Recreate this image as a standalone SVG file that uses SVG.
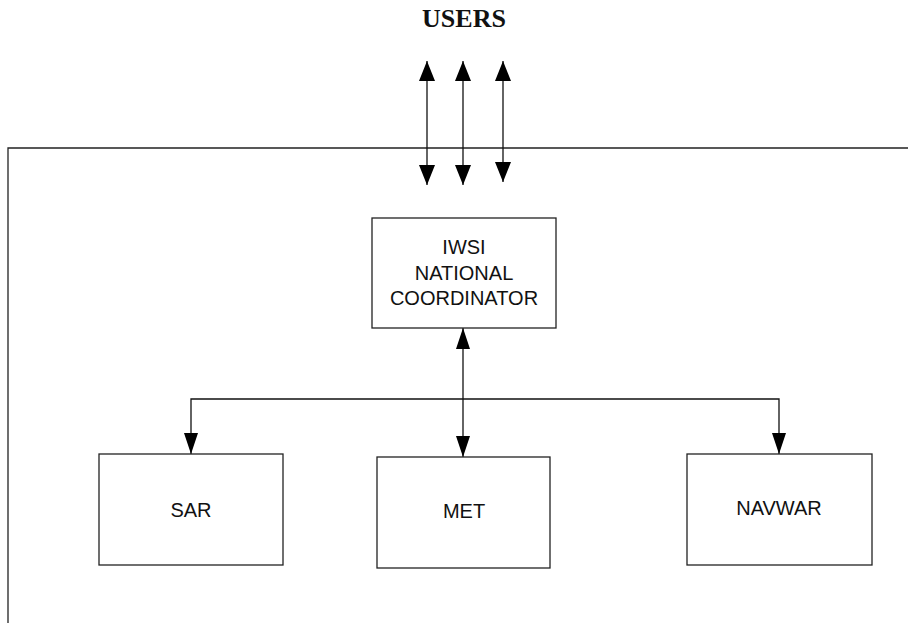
<svg xmlns="http://www.w3.org/2000/svg" width="908" height="623" viewBox="0 0 908 623">
  <style>
    .box { fill: #ffffff; stroke: #222222; stroke-width: 1.3; }
    .lbl { font-family: "Liberation Sans", Arial, sans-serif; font-size: 20px; fill: #111111; text-anchor: middle; }
    .title { font-family: "Liberation Serif", "Times New Roman", serif; font-size: 26px; font-weight: bold; fill: #111111; text-anchor: middle; }
    .wire { stroke: #111111; stroke-width: 1.3; fill: none; }
    .frame { stroke: #222222; stroke-width: 1.3; fill: none; }
  </style>
  <defs>
    <marker id="ah" markerUnits="userSpaceOnUse" markerWidth="20" markerHeight="16" refX="20" refY="8" orient="auto-start-reverse">
      <path d="M0,0 L20,8 L0,16 z" fill="#000000"/>
    </marker>
    <marker id="ahs" markerUnits="userSpaceOnUse" markerWidth="21" markerHeight="14" refX="21" refY="7" orient="auto-start-reverse">
      <path d="M0,0 L21,7 L0,14 z" fill="#000000"/>
    </marker>
  </defs>

  <rect width="908" height="623" fill="#ffffff"/>

  <text class="title" x="464" y="27">USERS</text>

  <!-- enclosing frame: top edge and left side -->
  <g id="frame">
    <path class="frame" d="M8,623 L8,148 L908,148"/>
  </g>

  <g id="connectors">
    <!-- user links -->
    <line class="wire" x1="427" y1="61" x2="427" y2="185" marker-start="url(#ah)" marker-end="url(#ah)"/>
    <line class="wire" x1="463" y1="61" x2="463" y2="185" marker-start="url(#ah)" marker-end="url(#ah)"/>
    <line class="wire" x1="503" y1="61" x2="503" y2="182" marker-start="url(#ah)" marker-end="url(#ah)"/>
    <!-- coordinator to services -->
    <line class="wire" x1="463" y1="328" x2="463" y2="457" marker-start="url(#ahs)" marker-end="url(#ahs)"/>
    <path class="wire" d="M191,454 L191,399 L779,399 L779,454" marker-start="url(#ahs)" marker-end="url(#ahs)"/>
  </g>

  <g id="coordinator">
    <rect class="box" x="372" y="218" width="184" height="110"/>
    <text class="lbl" x="464" y="254">IWSI</text>
    <text class="lbl" x="464" y="280">NATIONAL</text>
    <text class="lbl" x="464" y="305">COORDINATOR</text>
  </g>

  <g id="sar">
    <rect class="box" x="99" y="454" width="184" height="111"/>
    <text class="lbl" x="191" y="517">SAR</text>
  </g>

  <g id="met">
    <rect class="box" x="377" y="457" width="173" height="111"/>
    <text class="lbl" x="464" y="518">MET</text>
  </g>

  <g id="navwar">
    <rect class="box" x="687" y="454" width="185" height="111"/>
    <text class="lbl" x="779" y="515">NAVWAR</text>
  </g>
</svg>
